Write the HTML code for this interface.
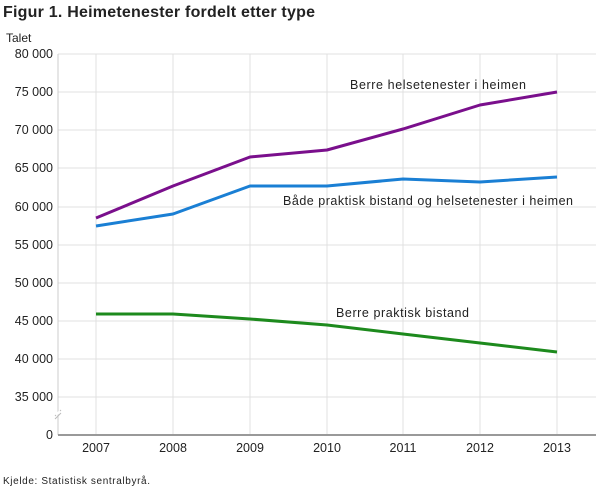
<!DOCTYPE html>
<html><head><style>
body{margin:0;background:#fff;font-family:"Liberation Sans",sans-serif;}
</style></head><body>
<svg width="610" height="488" xmlns="http://www.w3.org/2000/svg" font-family="Liberation Sans, sans-serif">
<text x="3" y="17" font-size="16" font-weight="bold" fill="#222" textLength="312">Figur 1. Heimetenester fordelt etter type</text>
<text x="6" y="42" font-size="12" fill="#222">Talet</text>
<g stroke="#e0e0e0" stroke-width="1">
<line x1="58" x2="596" y1="54" y2="54"/><line x1="58" x2="596" y1="92" y2="92"/>
<line x1="58" x2="596" y1="130" y2="130"/><line x1="58" x2="596" y1="168" y2="168"/>
<line x1="58" x2="596" y1="207" y2="207"/><line x1="58" x2="596" y1="245" y2="245"/>
<line x1="58" x2="596" y1="283" y2="283"/><line x1="58" x2="596" y1="321" y2="321"/>
<line x1="58" x2="596" y1="359" y2="359"/><line x1="58" x2="596" y1="397" y2="397"/>
<line x1="96" x2="96" y1="54" y2="435"/><line x1="173" x2="173" y1="54" y2="435"/>
<line x1="250" x2="250" y1="54" y2="435"/><line x1="327" x2="327" y1="54" y2="435"/>
<line x1="403" x2="403" y1="54" y2="435"/><line x1="480" x2="480" y1="54" y2="435"/>
<line x1="557" x2="557" y1="54" y2="435"/>
</g>
<line x1="58" x2="58" y1="54" y2="435" stroke="#ccc"/>
<line x1="58" x2="596" y1="435" y2="435" stroke="#999" stroke-width="2"/>
<g stroke="#bbb" stroke-width="1"><line x1="55" y1="416" x2="61" y2="410"/><line x1="55" y1="419" x2="61" y2="413"/></g>
<line x1="56" y1="415" x2="60" y2="411" stroke="#fff" stroke-width="2"/>
<g font-size="12.5" fill="#222" text-anchor="end">
<text x="53" y="58">80 000</text><text x="53" y="96">75 000</text><text x="53" y="134">70 000</text>
<text x="53" y="172">65 000</text><text x="53" y="211">60 000</text><text x="53" y="249">55 000</text>
<text x="53" y="287">50 000</text><text x="53" y="325">45 000</text><text x="53" y="363">40 000</text>
<text x="53" y="401">35 000</text><text x="53" y="439">0</text>
</g>
<g font-size="12.5" fill="#222" text-anchor="middle">
<text x="96" y="452">2007</text><text x="173" y="452">2008</text><text x="250" y="452">2009</text>
<text x="327" y="452">2010</text><text x="403" y="452">2011</text><text x="480" y="452">2012</text><text x="557" y="452">2013</text>
</g>
<g fill="none" stroke-width="3" stroke-linejoin="round">
<polyline stroke="#7a0f8c" points="96,218 173,186 250,157 327,150 403,129 480,105 557,92"/>
<polyline stroke="#1a7fd4" points="96,226 173,214 250,186 327,186 403,179 480,182 557,177"/>
<polyline stroke="#1d8a1d" points="96,314 173,314 250,319 327,325 403,334 480,343 557,352"/>
</g>
<g font-size="12.5" fill="#222">
<text x="350" y="89" textLength="176">Berre helsetenester i heimen</text>
<text x="283" y="205" textLength="290">Både praktisk bistand og helsetenester i heimen</text>
<text x="336" y="317" textLength="133">Berre praktisk bistand</text>
</g>
<text x="3" y="484" font-size="10" fill="#222" textLength="147">Kjelde: Statistisk sentralbyrå.</text>
</svg>
</body></html>
